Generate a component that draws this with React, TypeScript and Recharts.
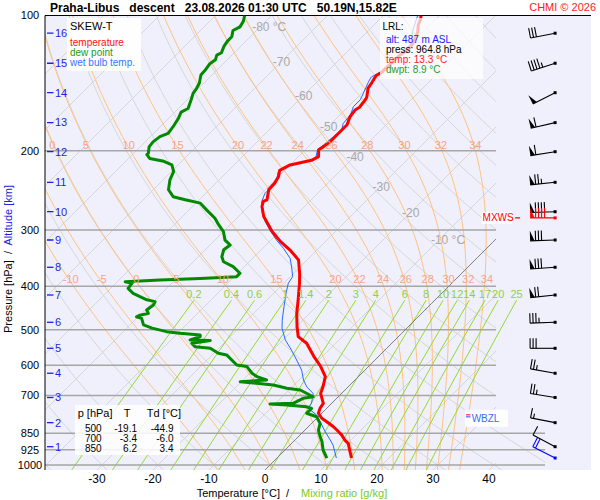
import { CartesianGrid, ComposedChart, Line, ReferenceLine, Scatter, XAxis, YAxis } from 'recharts';

const FONT = '"Liberation Sans", Arial, Helvetica, sans-serif';

// sounding: [pressure hPa, °C]
const TEMPERATURE: [number, number][] = [
  [100, -53.3], [102, -52.7], [105, -52.1], [109, -50.9], [115, -49.8], [119, -49.5], [122.5, -50.0],
  [128, -50.1], [134, -50.2], [136, -50.6], [141, -50.1], [145, -49.8], [152, -48.4], [154, -48.2],
  [160, -47.9], [162, -48.2], [168, -47.9], [175, -47.0], [180, -47.0], [184, -47.0], [191, -47.0],
  [196, -47.3], [199, -47.6], [206, -46.4], [210, -47.0], [215, -50.0], [221, -50.9], [228, -50.0],
  [236, -49.5], [244, -49.4], [257, -47.9], [259, -48.3], [266, -47.6], [280, -45.5], [291, -43.4],
  [302, -41.4], [318, -38.1], [334, -34.5], [350, -31.5], [375, -28.9], [394, -27.2], [430, -24.4],
  [460, -22.3], [492, -19.9], [518, -17.9], [536, -15.2], [573, -11.6], [603, -8.6], [636, -5.9],
  [670, -4.5], [693, -3.75], [729, -1.5], [748, -1.2], [767, -0.6], [787, 0.9], [801, 2.4],
  [822, 4.5], [836, 5.7], [857, 7.4], [880, 8.9], [895, 10.1], [934, 11.9], [964.8, 13.3],
];

const WET_BULB: [number, number][] = [
  [100, -53.9], [108, -52.1], [116, -50.0], [123, -50.2], [134, -50.5], [137, -51.2], [140, -50.9],
  [151.5, -49.4], [154, -49.1], [159.5, -49.1], [166, -48.2], [174, -47.9], [180, -47.0], [186, -47.3],
  [194, -47.6], [199, -47.8], [208, -46.6], [210, -47.0], [215, -50.2], [222.5, -50.9], [230, -50.0],
  [240, -49.4], [249, -49.4], [259.5, -48.5], [273, -46.7], [287.5, -44.3], [300, -42.0], [316, -39.0],
  [329.5, -36.3], [347, -33.3], [364.5, -31.3], [381, -29.6], [394, -29.2], [415, -27.8], [444, -25.8],
  [476, -23.7], [496, -22.3], [527, -19.6], [555, -16.7], [584, -14.0], [615, -11.3], [647, -9.2],
  [670, -7.4], [693, -5.1], [729, -3.6], [748, -3.3], [774, -0.6], [801, 1.2], [843, 3.9],
  [880, 6.3], [903, 7.7], [964.8, 10.6],
];

const DEW_POINT: [number, number][] = [
  [100, -84.8], [103, -84.0], [106, -83.6], [108, -84.2], [111.5, -83.3], [114, -83.3], [117, -83.0],
  [121, -82.3], [122.5, -82.7], [125.5, -82.1], [128, -82.4], [132, -82.1], [135.5, -82.0], [141.5, -80.8],
  [145, -80.4], [149, -80.1], [154, -79.3], [161, -78.3], [164, -78.9], [169, -78.3], [177, -77.7],
  [183, -77.4], [186, -78.3], [191, -78.6], [196, -78.4], [202.5, -77.4], [204, -77.4], [208, -76.2],
  [211, -73.2], [215, -71.1], [222.5, -69.6], [232, -68.8], [244, -67.3], [253, -65.2], [257, -62.5],
  [261.5, -59.2], [271, -56.8], [282.5, -53.9], [292, -52.1], [302.5, -50.0], [316, -48.2], [324, -46.4],
  [332, -46.7], [344, -45.8], [353, -44.6], [362, -42.0], [374.5, -39.6], [381, -39.6], [384.5, -45.8],
  [387.5, -52.7], [391, -58.6], [394, -57.1], [404.5, -56.9], [415, -55.1], [422, -53.3], [429, -51.5],
  [433, -49.7], [440.5, -49.4], [452, -49.7], [460, -48.8], [464, -50.0], [468, -50.3], [472, -49.1],
  [488, -47.6], [496, -45.5], [505, -42.3], [509, -39.6], [513.5, -35.7], [518, -35.4], [527, -36.6],
  [528.5, -32.9], [536, -35.7], [545.5, -34.5], [550, -31.5], [564, -29.2], [569, -27.4], [599, -23.8],
  [604, -21.7], [625, -19.6], [636, -18.1], [647, -15.8], [652.5, -20.2], [664, -13.7], [675, -10.7],
  [681, -8.0], [692.5, -6.3], [705, -4.5], [710.5, -6.0], [729, -6.9], [731.5, -10.9], [735, -7.7],
  [742, -3.9], [748, -2.7], [767, -2.7], [781, -0.3], [808, 1.5], [836, 2.4], [865, 3.9],
  [887, 5.1], [926, 6.8], [964.8, 8.9],
];

const PRESSURE_TICKS = [100, 200, 300, 400, 500, 600, 700, 850, 925, 1000];
const TEMP_TICKS = [-30, -20, -10, 0, 10, 20, 30, 40];

// altitude marks and the winds plotted at them
const ALT_KM = [1, 2, 3, 4, 5, 6, 7, 8, 9, 10, 11, 12, 13, 14, 15, 16];
const ALT_P = [910.5, 805, 707.6, 625, 550, 481.4, 418.6, 363.2, 315.8, 273.2, 235, 200.9, 173.1, 148.5, 127.7, 109.5];
const WIND_DIR = [298, 281, 279, 280, 270, 268, 264, 266, 268, 268, 264, 261, 257, 243, 252, 259];
const WIND_KT = [10, 15, 25, 25, 30, 35, 70, 80, 80, 90, 75, 60, 60, 50, 45, 30];
const SURFACE_WIND = { p: 964.8, dir: 297, kt: 20 };
const MAX_WIND = { p: 282, dir: 270, kt: 90 };
const WBZL_P = 783;

const TABLE_P = ['500', '700', '850'];
const TABLE_T = ['-19.1', '-3.4', '6.2'];
const TABLE_TD = ['-44.9', '-6.0', '3.4'];

// background isopleths
const ISOTHERMS = [-120, -110, -100, -90, -80, -70, -60, -50, -40, -30, -20, -10, 0, 10, 20, 30, 40];
const ISOTHERM_LABEL_T = [-80, -70, -60, -50, -40, -30, -20, -10];
const ISOTHERM_LABEL_P = [106, 127, 151, 177, 206, 240, 275, 316];
const DRY_ADIABATS = [-40, -30, -20, -10, 0, 10, 20, 30, 40, 50, 60, 70, 80, 90, 100, 110, 120, 130, 140, 150, 160, 170];
const MOIST_ADIABATS = [-10, -5, 0, 5, 10, 15, 20, 22, 24, 26, 28, 30, 32, 34];
const MOIST_LABEL_P_LOW = 386;
const MOIST_LABEL_P_HIGH = 194;
const MIXING_RATIOS = [0.2, 0.4, 0.6, 1, 1.4, 2, 3, 4, 6, 8, 10, 12, 14, 17, 20, 25];
const MIXING_TOP_P = 430;
const MIXING_LABEL_P = 416;

// chart frame
const PLOT_LEFT = 45;
const PLOT_TOP = 15.5;
const PLOT_RIGHT = 591;
const PLOT_BOTTOM = 470;
const P_TOP = 100;
const P_BOTTOM = 1025.9;
const X_MIN = -39.29;
const X_MAX = 58.21;
const X_GRID_MAX = 41.25;
const X_LOW_EXT = 50;
const BARB_X = 51.8;
const WBZL_X = 35.7;
const SKEW =
  (PLOT_BOTTOM - PLOT_TOP) / Math.log(P_BOTTOM / P_TOP) / ((PLOT_RIGHT - PLOT_LEFT) / (X_MAX - X_MIN));

type Pt = { x: number; y: number };

const skewX = (t: number, p: number) => t + SKEW * Math.log(P_BOTTOM / p);
const toPts = (rows: [number, number][]): Pt[] => rows.map(([p, t]) => ({ x: skewX(t, p), y: p }));

function steps(from: number, to: number, n: number) {
  const out: number[] = [];
  for (let i = 0; i <= n; i++) out.push(from * Math.pow(to / from, i / n));
  return out;
}

function clip(pts: Pt[], limit: (p: number) => number = () => X_GRID_MAX): Pt[] {
  const out: Pt[] = [];
  pts.forEach((a, i) => {
    const inside = a.x <= limit(a.y);
    if (i > 0) {
      const b = pts[i - 1];
      const bInside = b.x <= limit(b.y);
      if (bInside !== inside) {
        const xm = inside ? limit(a.y) : limit(b.y);
        const f = (xm - b.x) / (a.x - b.x);
        out.push({ x: xm, y: Math.exp(Math.log(b.y) + f * (Math.log(a.y) - Math.log(b.y))) });
      }
    }
    if (inside) out.push(a);
  });
  return out;
}

function xAtP(pts: Pt[], p: number): number | null {
  for (let i = 1; i < pts.length; i++) {
    const a = pts[i - 1];
    const b = pts[i];
    if ((a.y - p) * (b.y - p) <= 0) {
      const f = Math.log(p / a.y) / Math.log(b.y / a.y);
      return a.x + f * (b.x - a.x);
    }
  }
  return null;
}

const isotherm = (t: number) => clip(steps(P_BOTTOM, P_TOP, 30).map((p) => ({ x: skewX(t, p), y: p })));

const dryAdiabat = (th: number) =>
  clip(
    steps(P_BOTTOM, P_TOP, 60).map((p) => ({ x: skewX((th + 273.15) * Math.pow(p / 1000, 0.2857) - 273.15, p), y: p })),
    (p) => (p >= 836 ? X_LOW_EXT : X_GRID_MAX),
  );

const mixingLine = (w: number) =>
  steps(P_BOTTOM, MIXING_TOP_P, 12).map((p) => {
    const l = Math.log((w * p) / (622 + w) / 6.112);
    return { x: skewX((243.5 * l) / (17.67 - l), p), y: p };
  });

function dTdp(T: number, p: number) {
  const tc = T - 273.15;
  const es = 6.112 * Math.exp((17.67 * tc) / (tc + 243.5));
  const rs = (0.622 * es) / (p - es);
  const Lv = 2.501e6;
  const Rd = 287.04;
  const cp = 1005.7;
  return (Rd * T + Lv * rs) / (p * (cp + (Lv * Lv * rs * 0.622) / (Rd * T * T)));
}

function moistAdiabat(tw: number): Pt[] {
  let T = tw + 273.15;
  let p = 1000;
  const n0 = 10;
  const h0 = (P_BOTTOM - 1000) / n0;
  for (let i = 0; i < n0; i++) {
    const k1 = dTdp(T, p);
    T += dTdp(T + (k1 * h0) / 2, p + h0 / 2) * h0;
    p += h0;
  }
  const pts: Pt[] = [{ x: skewX(T - 273.15, p), y: p }];
  let k = 0;
  while (p > P_TOP + 1e-6) {
    const h = Math.max(-2.5, P_TOP - p);
    const k1 = dTdp(T, p);
    T += dTdp(T + (k1 * h) / 2, p + h / 2) * h;
    p += h;
    k++;
    if (k % 4 === 0 || p <= P_TOP + 1e-6) pts.push({ x: skewX(T - 273.15, p), y: p });
  }
  return pts;
}

const MOIST_CURVES = MOIST_ADIABATS.map((tw) => moistAdiabat(tw));

const ISOTHERM_LABELS = ISOTHERM_LABEL_T.map((t, i) => ({
  x: skewX(t, ISOTHERM_LABEL_P[i]),
  y: ISOTHERM_LABEL_P[i],
  label: i === 0 || i === ISOTHERM_LABEL_T.length - 1 ? `${t} °C` : String(t),
}));

const moistLabels = (p: number) =>
  MOIST_ADIABATS.map((tw, i) => ({ x: xAtP(MOIST_CURVES[i], p), y: p, label: String(tw) })).filter(
    (l) => l.x !== null && (l.x as number) > X_MIN + 1.5 && (l.x as number) < X_GRID_MAX,
  );

const MIXING_LABELS = MIXING_RATIOS.map((w) => {
  const pts = mixingLine(w);
  return { x: pts[pts.length - 1].x, y: MIXING_LABEL_P, label: String(w) };
});

const ALT_MARKS = ALT_KM.map((km, i) => ({ x: X_MIN, y: ALT_P[i], label: String(km) }));

const BARBS = [
  ...ALT_P.map((p, i) => ({ x: BARB_X, y: p, dir: WIND_DIR[i], kt: WIND_KT[i], color: '#000' })),
  { x: BARB_X, y: SURFACE_WIND.p, dir: SURFACE_WIND.dir, kt: SURFACE_WIND.kt, color: '#0000ff' },
  { x: BARB_X, y: MAX_WIND.p, dir: MAX_WIND.dir, kt: MAX_WIND.kt, color: '#ff0000', label: 'MXWS' },
];

const GRID_GRAY = '#d6d6d6';
const MOIST_LABEL_COLOR = '#f6a386';

function textShape(color: string, size: number, anchor: 'start' | 'middle' | 'end', dx = 0) {
  return (props: any) =>
    props.cx == null ? <g /> : (
      <text
        x={props.cx + dx}
        y={props.cy}
        dy="0.35em"
        fill={color}
        fontSize={size}
        fontFamily={FONT}
        textAnchor={anchor}
      >
        {props.payload.label}
      </text>
    );
}

function AltMark(props: any) {
  const { cx, cy, payload } = props;
  if (cx == null) return <g />;
  return (
    <g>
      <line x1={cx + 2} x2={cx + 8.5} y1={cy} y2={cy} stroke="#1e1ee6" strokeWidth={1.3} />
      <text x={cx + 10} y={cy} dy="0.35em" fill="#1e1ee6" fontSize={11} fontFamily={FONT}>
        {payload.label}
      </text>
    </g>
  );
}

function WindBarb(props: any) {
  const { cx, cy, payload } = props;
  if (cx == null) return <g />;
  const color = payload.color;
  const a = (payload.dir * Math.PI) / 180;
  const ux = Math.sin(a);
  const uy = -Math.cos(a);
  const nx = -uy;
  const ny = ux;
  const STAFF = 25;
  const FULL = 10;
  const tx = cx + ux * STAFF;
  const ty = cy + uy * STAFF;
  const at = (s: number) => [tx - ux * s, ty - uy * s];
  const parts: JSX.Element[] = [];
  let rest = Math.round(payload.kt / 5) * 5;
  let d = 0;
  while (rest >= 50) {
    const [x0, y0] = at(d);
    const [x2, y2] = at(d + 4.5);
    parts.push(
      <polygon key={`f${d}`} points={`${x0},${y0} ${x0 + nx * FULL},${y0 + ny * FULL} ${x2},${y2}`} fill={color} />,
    );
    d += 5.5;
    rest -= 50;
  }
  while (rest >= 10) {
    const [x0, y0] = at(d);
    parts.push(<line key={`b${d}`} x1={x0} y1={y0} x2={x0 + nx * FULL} y2={y0 + ny * FULL} stroke={color} strokeWidth={1.1} />);
    d += 3;
    rest -= 10;
  }
  if (rest >= 5) {
    if (d === 0) d = 3;
    const [x0, y0] = at(d);
    parts.push(<line key="h" x1={x0} y1={y0} x2={x0 + nx * 5} y2={y0 + ny * 5} stroke={color} strokeWidth={1.1} />);
  }
  return (
    <g>
      {payload.label && (
        <g>
          <rect x={cx - 73.5} y={cy - 5.5} width={30.5} height={11.5} fill="#fff" />
          <text x={cx - 72.5} y={cy} dy="0.35em" fill={color} fontSize={10} fontFamily={FONT}>
            {payload.label}
          </text>
          <line x1={cx - 40} x2={cx - 35} y1={cy} y2={cy} stroke={color} strokeWidth={1.2} />
        </g>
      )}
      <line x1={cx} y1={cy} x2={tx} y2={ty} stroke={color} strokeWidth={1.1} />
      {parts}
      <rect x={cx - 1.5} y={cy - 1.5} width={3} height={3} fill={color} />
    </g>
  );
}

function WbzlMark(props: any) {
  const { cx, cy } = props;
  if (cx == null) return <g />;
  return (
    <g>
      <rect x={cx} y={cy - 7.5} width={43} height={17} fill="#fff" fillOpacity={0.92} />
      <line x1={cx + 1} x2={cx + 5.5} y1={cy - 2.4} y2={cy - 2.4} stroke="#ff0000" strokeWidth={1} />
      <line x1={cx + 1} x2={cx + 5.5} y1={cy - 0.4} y2={cy - 0.4} stroke="#2050ff" strokeWidth={1} />
      <text x={cx + 6.7} y={cy + 0.8} dy="0.35em" fill="#3a6cf0" fontSize={10} fontFamily={FONT}>
        WBZL
      </text>
    </g>
  );
}

const YTick = (props: any) => (
  <text x={30} y={props.y} dy="0.36em" textAnchor="middle" fontSize={11} fontFamily={FONT} fill="#000">
    {props.payload.value}
  </text>
);

const XTick = (props: any) => (
  <text x={props.x} y={PLOT_BOTTOM + 12.5} textAnchor="middle" fontSize={12} fontFamily={FONT} fill="#000">
    {props.payload.value}
  </text>
);

function bgLine(key: string, data: Pt[], stroke: string, width = 1) {
  return (
    <Line
      key={key}
      data={data}
      dataKey="y"
      stroke={stroke}
      strokeWidth={width}
      dot={false}
      activeDot={false}
      isAnimationActive={false}
      legendType="none"
    />
  );
}

export default function App() {
  return (
    <div style={{ position: 'absolute', left: 0, top: 0, width: 600, height: 500, background: '#fff' }}>
      <ComposedChart
        width={600}
        height={500}
        margin={{ top: PLOT_TOP, right: 600 - PLOT_RIGHT, left: 0, bottom: 0 }}
      >
        <CartesianGrid fill="#f0f0fc" stroke="none" horizontal={false} vertical={false} />
        <XAxis
          type="number"
          dataKey="x"
          domain={[X_MIN, X_MAX]}
          allowDataOverflow
          ticks={TEMP_TICKS}
          interval={0}
          axisLine={false}
          tickLine={false}
          height={500 - PLOT_BOTTOM}
          tick={XTick}
        />
        <YAxis
          type="number"
          dataKey="y"
          scale="log"
          domain={[P_TOP, P_BOTTOM]}
          reversed
          allowDataOverflow
          ticks={PRESSURE_TICKS}
          interval={0}
          width={PLOT_LEFT}
          axisLine={{ stroke: '#000' }}
          tickLine={false}
          tick={YTick}
        />

        {ISOTHERMS.map((t) => bgLine(`it${t}`, isotherm(t), GRID_GRAY))}
        {DRY_ADIABATS.map((th) => bgLine(`da${th}`, dryAdiabat(th), GRID_GRAY))}
        {MOIST_CURVES.map((c, i) => bgLine(`ma${MOIST_ADIABATS[i]}`, clip(c), '#ffc27c'))}
        {MIXING_RATIOS.map((w) => bgLine(`mr${w}`, mixingLine(w), '#93d92e'))}
        {PRESSURE_TICKS.filter((p) => p > P_TOP).map((p) =>
          bgLine(
            `ib${p}`,
            [
              { x: X_MIN, y: p },
              { x: p >= 850 ? X_LOW_EXT : X_GRID_MAX, y: p },
            ],
            '#a6a6a6',
            1.5,
          ),
        )}
        {bgLine('zero', isotherm(0), '#808080')}
        <ReferenceLine y={P_TOP} stroke="#000" strokeWidth={1} />

        <Scatter data={ISOTHERM_LABELS} dataKey="y" shape={textShape('#a9a9a9', 12, 'start', -8)} isAnimationActive={false} />
        <Scatter data={moistLabels(MOIST_LABEL_P_LOW)} dataKey="y" shape={textShape(MOIST_LABEL_COLOR, 11, 'middle', 2)} isAnimationActive={false} />
        <Scatter data={moistLabels(MOIST_LABEL_P_HIGH)} dataKey="y" shape={textShape(MOIST_LABEL_COLOR, 11, 'start', -4.5)} isAnimationActive={false} />
        <Scatter data={MIXING_LABELS} dataKey="y" shape={textShape('#8fd13a', 11, 'middle')} isAnimationActive={false} />
        <Scatter data={ALT_MARKS} dataKey="y" shape={AltMark} isAnimationActive={false} />

        <Line data={toPts(WET_BULB)} dataKey="y" stroke="#1f6bff" strokeWidth={1} dot={false} activeDot={false} isAnimationActive={false} />
        <Line data={toPts(DEW_POINT)} dataKey="y" stroke="#008a00" strokeWidth={3} dot={false} activeDot={false} isAnimationActive={false} strokeLinejoin="round" />
        <Line data={toPts(TEMPERATURE)} dataKey="y" stroke="#ff0000" strokeWidth={3} dot={false} activeDot={false} isAnimationActive={false} strokeLinejoin="round" />

        <Scatter data={[{ x: WBZL_X, y: WBZL_P }]} dataKey="y" shape={WbzlMark} isAnimationActive={false} />
        <Scatter data={BARBS} dataKey="y" shape={WindBarb} isAnimationActive={false} />
      </ComposedChart>

      <svg
        width={600}
        height={500}
        style={{ position: 'absolute', left: 0, top: 0, pointerEvents: 'none' }}
        fontFamily={FONT}
      >
        <text x={50} y={12} fontSize={12} fontWeight="bold" fill="#000" style={{ whiteSpace: 'pre' }}>
          {'Praha-Libus   descent   23.08.2026 01:30 UTC   50.19N,15.82E'}
        </text>
        <text x={596} y={11} fontSize={11} fill="#ff2020" textAnchor="end">
          CHMI © 2026
        </text>

        <text transform="translate(11.5,259) rotate(-90)" fontSize={11} textAnchor="middle" style={{ whiteSpace: 'pre' }}>
          <tspan fill="#000">{'Pressure [hPa]  /  '}</tspan>
          <tspan fill="#2222dd">Altitude [km]</tspan>
        </text>
        <text x={196.7} y={496.5} fontSize={11} fill="#000" style={{ whiteSpace: 'pre' }}>
          {'Temperature [°C]  /'}
        </text>
        <text x={301} y={496.5} fontSize={11} fill="#77cc22">
          Mixing ratio [g/kg]
        </text>

        <rect x={67} y={18} width={74} height={53} fill="#fff" fillOpacity={0.93} />
        <text x={70} y={30} fontSize={11} fill="#000">SKEW-T</text>
        <text x={70} y={45.5} fontSize={10} fill="#ff1010">temperature</text>
        <text x={70} y={55.5} fontSize={10} fill="#1a9a1a">dew point</text>
        <text x={70} y={65.5} fontSize={10} fill="#3377ff">wet bulb temp.</text>

        <rect x={380} y={18} width={103} height={61} fill="#fff" fillOpacity={0.72} />
        <text x={382.5} y={30} fontSize={10} fill="#000">LRL:</text>
        <text x={386} y={43} fontSize={10} fill="#2020ff">alt: 487 m ASL</text>
        <text x={386} y={53} fontSize={10} fill="#000">press: 964.8 hPa</text>
        <text x={386} y={63} fontSize={10} fill="#ff1a1a">temp: 13.3 °C</text>
        <text x={386} y={73} fontSize={10} fill="#22a022">dwpt: 8.9 °C</text>

        <rect x={75} y={405} width={105} height={50} fill="#fff" fillOpacity={0.85} />
        <text x={77.7} y={416.7} fontSize={11} fill="#000">p [hPa]</text>
        <text x={127} y={416.7} fontSize={11} fill="#000" textAnchor="middle">T</text>
        <text x={146.7} y={416.7} fontSize={11} fill="#000">Td [°C]</text>
        {TABLE_P.map((p, i) => (
          <g key={p}>
            <text x={85} y={431.5 + i * 10} fontSize={10} fill="#000">{p}</text>
            <text x={137} y={431.5 + i * 10} fontSize={10} fill="#000" textAnchor="end">{TABLE_T[i]}</text>
            <text x={173.5} y={431.5 + i * 10} fontSize={10} fill="#000" textAnchor="end">{TABLE_TD[i]}</text>
          </g>
        ))}
      </svg>
    </div>
  );
}
